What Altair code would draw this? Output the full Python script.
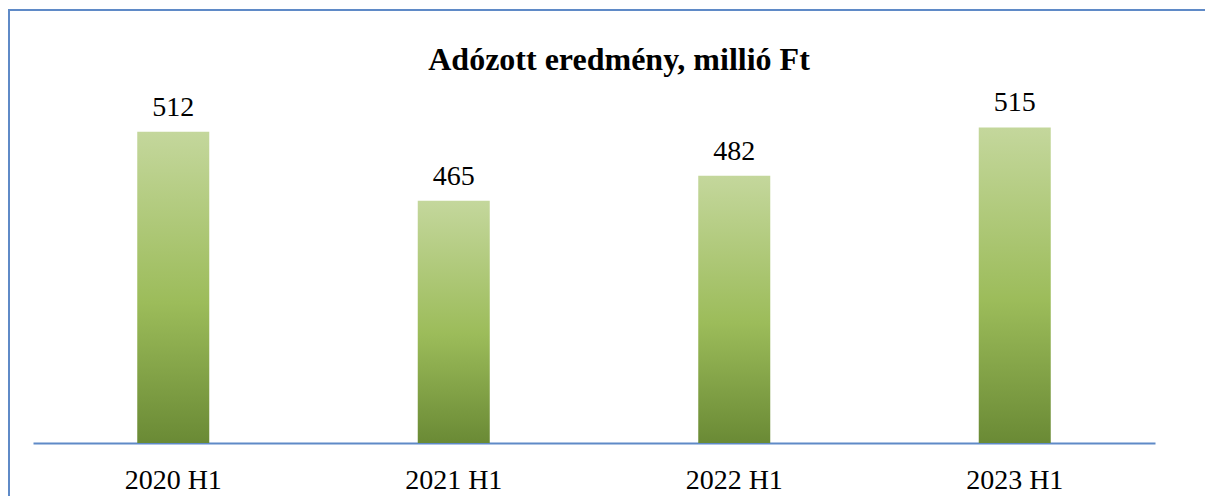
import altair as alt
import pandas as pd

categories = ["2020 H1", "2021 H1", "2022 H1", "2023 H1"]
values = [512, 465, 482, 515]
title_text = "Adózott eredmény, millió Ft"
y_min = 300
y_max = 550

df = pd.DataFrame({"period": categories, "value": values})

FONT = "Liberation Serif"
BLUE = "#5f8ac7"

gradient = alt.Gradient(
    gradient="linear",
    stops=[
        alt.GradientStop(color="#c4d79c", offset=0),
        alt.GradientStop(color="#9cbc5a", offset=0.55),
        alt.GradientStop(color="#6a8a35", offset=1),
    ],
    x1=0, x2=0, y1=0, y2=1,
)

x_enc = alt.X(
    "period:N",
    sort=categories,
    scale=alt.Scale(paddingInner=0, paddingOuter=0),
    axis=alt.Axis(
        title=None, labelAngle=0, labelFont=FONT, labelFontSize=28,
        labelColor="#000000", labelBaseline="alphabetic", labelPadding=45,
        ticks=False, tickSize=0, domainColor=BLUE, domainWidth=2, grid=False,
    ),
)
y_enc = alt.Y("value:Q", scale=alt.Scale(domain=[y_min, y_max], nice=False, zero=False), axis=None)

frame_left = alt.Chart(alt.Data(values=[{"side": "left"}])).mark_rect(
    fill=BLUE, strokeWidth=0
).encode(
    x=alt.value(-25), x2=alt.value(-23), y=alt.value(-67), y2=alt.value(420)
)
frame_top = alt.Chart(alt.Data(values=[{"side": "top"}])).mark_rect(
    fill=BLUE, strokeWidth=0
).encode(
    x=alt.value(-25), x2=alt.value(1172), y=alt.value(-67), y2=alt.value(-65)
)

title = alt.Chart(alt.Data(values=[{"t": title_text}])).mark_text(
    font=FONT, fontSize=32, fontWeight="bold", color="#000000",
    align="center", baseline="alphabetic",
).encode(x=alt.value(586), y=alt.value(-6), text="t:N")

bars = alt.Chart(df).mark_bar(size=72, color=gradient).encode(
    x=x_enc, y=y_enc, y2=alt.Y2(datum=y_min)
)

labels = alt.Chart(df).mark_text(
    font=FONT, fontSize=28, color="#000000", baseline="alphabetic", dy=-16
).encode(x=alt.X("period:N", sort=categories), y="value:Q", text="value:Q")

chart = alt.layer(frame_left, frame_top, bars, labels, title).properties(
    width=1122, height=367,
    padding={"left": 25, "top": 68, "right": 50, "bottom": 53},
    autosize=alt.AutoSizeParams(type="none"),
).configure_view(strokeWidth=0)

chart.save("out.html", embed_options={"renderer": "svg", "actions": False})
